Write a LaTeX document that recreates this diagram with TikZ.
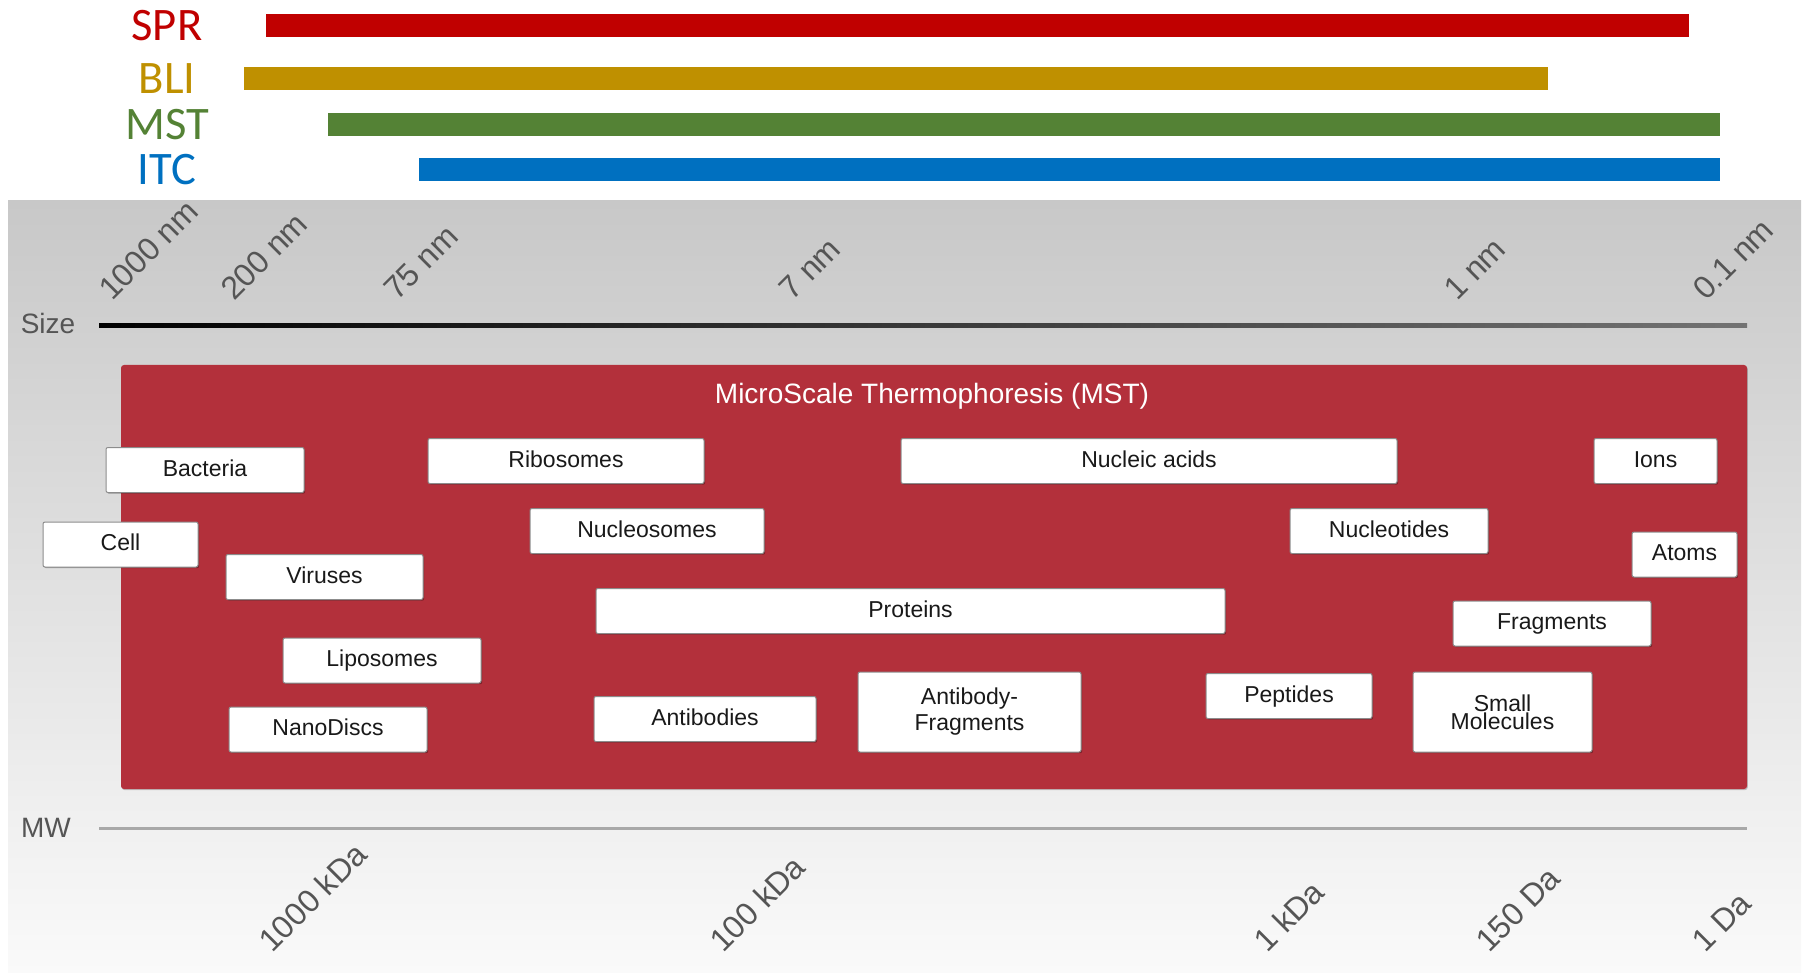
\documentclass[tikz,border=0pt]{standalone}
\usepackage{fontspec}
\setmainfont{Liberation Sans}
\newfontfamily\calibri{Carlito}
\usetikzlibrary{shadows}

\definecolor{sprred}{HTML}{C00000}
\definecolor{bligold}{HTML}{BF9000}
\definecolor{mstgreen}{HTML}{548235}
\definecolor{itcblue}{HTML}{0070C0}
\definecolor{mstred}{HTML}{B3303B}
\definecolor{paneltop}{HTML}{C8C8C8}
\definecolor{panelbot}{HTML}{FAFAFA}
\definecolor{axisgray}{HTML}{555555}
\definecolor{mwline}{HTML}{A8A8A8}
\definecolor{boxline}{HTML}{8C8C8C}

\tikzset{
  method/.style={font=\calibri\fontsize{23.3}{28}\selectfont, inner sep=0pt},
  axislabel/.style={font=\fontsize{14}{16}\selectfont, text=axisgray, inner sep=0pt},
  tick/.style={font=\fontsize{16}{19}\selectfont, text=axisgray, inner sep=0pt,
    rotate=45, anchor=base west},
  samplebox/.style={draw=boxline, line width=0.5pt, fill=white, rounded corners=1pt,
    inner sep=0pt, font=\fontsize{11.5}{13}\selectfont, text=black!90,
    minimum height=22.5pt, align=center,
    drop shadow={shadow xshift=0.6pt, shadow yshift=-0.6pt, opacity=0.3, fill=black}},
  sample/.style={samplebox, text height=6pt, text depth=0pt},
}

\begin{document}
\begin{tikzpicture}[x=0.5pt, y=-0.5pt]
  \useasboundingbox (0,0) rectangle (1805,973);

  % methods and their ranges
  \foreach \tech/\col/\xa/\xb/\yc in {SPR/sprred/266/1689/25.5, BLI/bligold/244/1548/78.5,
      MST/mstgreen/328/1720/124.5, ITC/itcblue/419/1720/169.5}{
    \node[method, text=\col] (lbl-\tech) at (167,\yc) {\tech};
    \fill[\col] (\xa,\yc-11.5) rectangle (\xb,\yc+11.5);
  }

  \shade[top color=paneltop, bottom color=panelbot] (8,201) rectangle (1801,973);

  % size axis
  \node[axislabel] (size) at (48,323) {Size};
  \shade[left color=black, right color=black!55] (99,324) rectangle (1747,328);
  \foreach \lab/\xx in {1000 nm/112, 200 nm/234, 75 nm/397, 7 nm/792, 1 nm/1457, 0.1 nm/1706}
    \node[tick] (nm-\xx) at (\xx,302) {\lab};

  % MST area
  \node[fill=mstred, minimum width=813pt, minimum height=212pt, rounded corners=1.5pt,
    drop shadow={shadow xshift=0.4pt, shadow yshift=-0.6pt, opacity=0.2, fill=black}]
    (mstzone) at (934,577) {};
  \node[font=\fontsize{14}{16}\selectfont, text=white, inner sep=0pt,
    text height=10pt, text depth=0pt] (title) at (932,393)
    {MicroScale Thermophoresis (MST)};

  \foreach \id/\xx/\yy/\w/\txt in {
      bacteria/205/470/99/Bacteria, cell/120.5/544.5/77.5/Cell,
      viruses/324.5/577/98.5/Viruses, ribosomes/566/461/138/Ribosomes,
      nucleosomes/647/531/117/Nucleosomes, proteins/910.5/611/314.5/Proteins,
      nucleic/1149/461/248/Nucleic acids, nucleotides/1389/531/99/Nucleotides,
      ions/1655.5/461/61.5/Ions, atoms/1684.5/554.5/52.5/Atoms,
      fragments/1552/623.5/99/Fragments, liposomes/382/660.5/99/Liposomes,
      nanodiscs/328/729.5/99/NanoDiscs, antibodies/705/719/111/Antibodies,
      peptides/1289/696/83/Peptides}
    \node[sample, minimum width=\w pt] (\id) at (\xx,\yy) {\txt};
  \node[samplebox, minimum width=111.5pt, minimum height=40pt] (abfrag) at (969.5,712)
    {Antibody-\\Fragments};
  \node[samplebox, minimum width=89.5pt, minimum height=40pt,
    font=\fontsize{11.5}{9}\selectfont] (smallmol) at (1502.5,712) {Small\\Molecules};

  % molecular weight axis
  \node[axislabel] (mw) at (46,828) {MW};
  \fill[mwline] (99,826.5) rectangle (1747,829.5);
  \foreach \lab/\xx in {1000 kDa/272, 100 kDa/723, 1 kDa/1267, 150 Da/1489, 1 Da/1705}
    \node[tick] (da-\xx) at (\xx,954) {\lab};
\end{tikzpicture}
\end{document}
